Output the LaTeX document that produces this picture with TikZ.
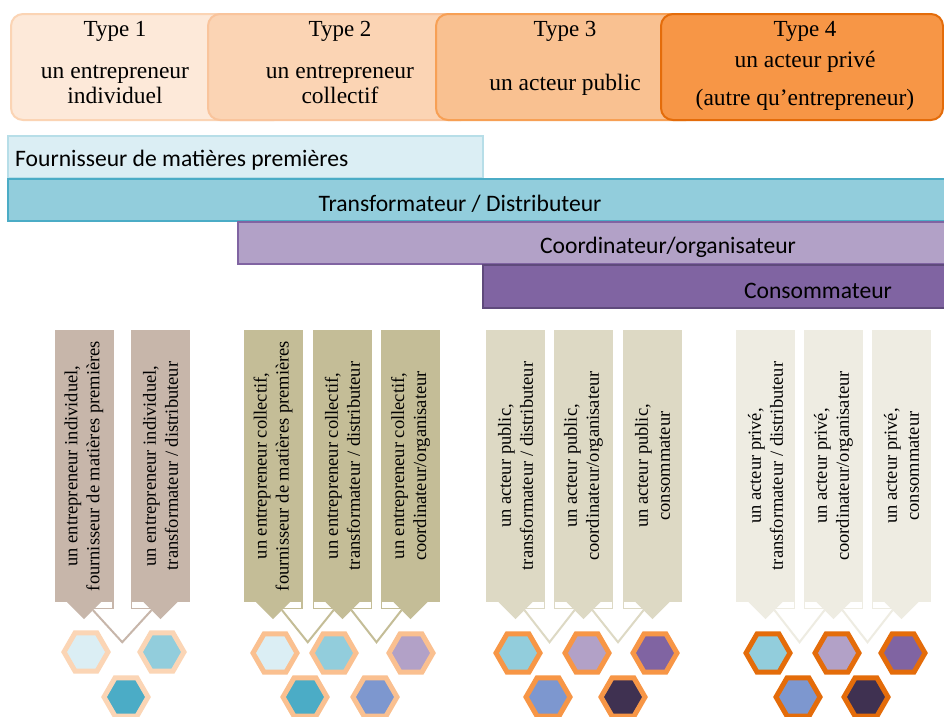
\documentclass[tikz,border=0pt]{standalone}
\usepackage{fontspec}
\setmainfont{Liberation Serif}
\newfontfamily\calib{Carlito}
\usetikzlibrary{shapes.geometric,calc}
\definecolor{tAfill}{HTML}{FDE9D9}\definecolor{tAdraw}{HTML}{FBD4B4}
\definecolor{tBfill}{HTML}{FBD4B4}\definecolor{tBdraw}{HTML}{F9C49C}
\definecolor{tCfill}{HTML}{F9C191}\definecolor{tCdraw}{HTML}{F7A055}
\definecolor{tDfill}{HTML}{F79646}\definecolor{tDdraw}{HTML}{E46C0A}
\definecolor{bAfill}{HTML}{DBEEF4}\definecolor{bAdraw}{HTML}{B7DEE8}
\definecolor{bBfill}{HTML}{92CDDC}\definecolor{bBdraw}{HTML}{4BACC6}
\definecolor{bCfill}{HTML}{B2A1C7}\definecolor{bCdraw}{HTML}{8064A2}
\definecolor{bDfill}{HTML}{8064A2}\definecolor{bDdraw}{HTML}{5F4A7C}
\definecolor{gA}{HTML}{C7B6AA}\definecolor{gB}{HTML}{C4BD97}
\definecolor{gC}{HTML}{DDD9C4}\definecolor{gD}{HTML}{EEECE2}
\definecolor{hLight}{HTML}{DBEEF4}\definecolor{hMed}{HTML}{92CDDC}
\definecolor{hTeal}{HTML}{4BACC6}\definecolor{hLav}{HTML}{B2A1C7}
\definecolor{hPur}{HTML}{8064A2}\definecolor{hPeri}{HTML}{7D97CF}
\definecolor{hDark}{HTML}{3F3151}
\definecolor{rA}{HTML}{FBD5B5}\definecolor{rB}{HTML}{FAC090}
\definecolor{rC}{HTML}{F79646}\definecolor{rD}{HTML}{E46C0A}
\newcommand{\arrowcol}[4]{%
  \node[colbox, fill=#3] (#1) at (#2,466) {#4};
  \fill[#3] ($(#1.west)+(-17,0)$) -- ($(#1.west)+(17,0)$) -- ($(#1.west)+(0,17)$) -- cycle;}
\newcommand{\rbr}[2]{\draw[#2, line width=1.2pt] ($(#1.west)+(10,0)$) -- ++(0,6) -- ++(19,0) -- ++(0,-6);}
\newcommand{\lbr}[2]{\draw[#2, line width=1.2pt] ($(#1.west)+(-10,0)$) -- ++(0,6) -- ++(-19,0) -- ++(0,-6);}
\newcommand{\vconn}[3]{\draw[#3, line width=2pt] ($(#1.west)+(9,8)$) -- ($(#1.west)!0.5!(#2.west)+(0,40)$) -- ($(#2.west)+(-9,8)$);}
\begin{document}
\begin{tikzpicture}[x=1pt,y=-1pt,
  typebox/.style={line width=2pt, rounded corners=12pt, minimum height=106pt, anchor=north west, inner sep=0pt},
  typetitle/.style={font=\fontsize{23}{27}\selectfont, inner sep=0pt},
  typetext/.style={font=\fontsize{23.5}{25}\selectfont, align=center, inner sep=0pt},
  bar/.style={anchor=north west, line width=1.5pt, inner sep=0pt, minimum height=42pt},
  bartext/.style={font=\calib\fontsize{23.6}{26}\selectfont, inner sep=0pt},
  colbox/.style={rectangle, rotate=90, minimum width=272pt, minimum height=59pt, inner sep=2pt, align=center, font=\fontsize{18.5}{22}\selectfont},
  hexa/.style={regular polygon, regular polygon sides=6, minimum size=44pt, inner sep=0pt, line width=5pt}]
\useasboundingbox (0,0) rectangle (944,716);
\fill[white] (0,0) rectangle (944,716);
% type boxes
\node[typebox, fill=tAfill, draw=tAdraw, minimum width=275pt] (box1) at (10,13) {};
\node[typebox, fill=tBfill, draw=tBdraw, minimum width=265pt] (box2) at (207,13) {};
\node[typebox, fill=tCfill, draw=tCdraw, minimum width=262pt] (box3) at (435,13) {};
\node[typebox, fill=tDfill, draw=tDdraw, minimum width=282pt] (box4) at (660,13) {};
\node[typetitle] (ty1) at (115,31) {Type 1};
\node[typetitle] (ty2) at (340,31) {Type 2};
\node[typetitle] (ty3) at (565,31) {Type 3};
\node[typetitle] (ty4) at (805,31) {Type 4};
\node[typetext] (tx1) at (115,84) {un entrepreneur\\individuel};
\node[typetext] (tx2) at (340,84) {un entrepreneur\\collectif};
\node[typetext] (tx3) at (565,85) {un acteur public};
\node[typetext] (tx4) at (805,81) {un acteur privé\\[13pt](autre qu’entrepreneur)};
% role bars
\node[bar, fill=bAfill, draw=bAdraw, minimum width=475pt] (bar1) at (7,135) {};
\node[bar, fill=bBfill, draw=bBdraw, minimum width=942pt] (bar2) at (7,178) {};
\node[bar, fill=bCfill, draw=bCdraw, minimum width=712pt] (bar3) at (237,221) {};
\node[bar, fill=bDfill, draw=bDdraw, minimum width=467pt, minimum height=43pt] (bar4) at (482,264) {};
\node[bartext, anchor=west] (bt1) at (15,160) {Fournisseur de matières premières};
\node[bartext] (bt2) at (460,204) {Transformateur / Distributeur};
\node[bartext] (bt3) at (668,247) {Coordinateur/organisateur};
\node[bartext] (bt4) at (818,291) {Consommateur};
% group 1
\arrowcol{a11}{84}{gA}{un entrepreneur individuel,\\fournisseur de matières premières}
\arrowcol{a12}{160.5}{gA}{un entrepreneur individuel,\\transformateur / distributeur}
\rbr{a11}{gA}\lbr{a12}{gA}
\vconn{a11}{a12}{gA}
% group 2
\arrowcol{a21}{273}{gB}{un entrepreneur collectif,\\fournisseur de matières premières}
\arrowcol{a22}{342.5}{gB}{un entrepreneur collectif,\\transformateur / distributeur}
\arrowcol{a23}{410.5}{gB}{un entrepreneur collectif,\\coordinateur/organisateur}
\rbr{a21}{gB}\lbr{a22}{gB}\rbr{a22}{gB}\lbr{a23}{gB}
\vconn{a21}{a22}{gB}\vconn{a22}{a23}{gB}
% group 3
\arrowcol{a31}{515.5}{gC}{un acteur public,\\transformateur / distributeur}
\arrowcol{a32}{583.5}{gC}{un acteur public,\\coordinateur/organisateur}
\arrowcol{a33}{652.5}{gC}{un acteur public,\\consommateur}
\rbr{a31}{gC}\lbr{a32}{gC}\rbr{a32}{gC}\lbr{a33}{gC}
\vconn{a31}{a32}{gC}\vconn{a32}{a33}{gC}
% group 4
\arrowcol{a41}{765.5}{gD}{un acteur privé,\\transformateur / distributeur}
\arrowcol{a42}{833.5}{gD}{un acteur privé,\\coordinateur/organisateur}
\arrowcol{a43}{901.5}{gD}{un acteur privé,\\consommateur}
\rbr{a41}{gD}\lbr{a42}{gD}\rbr{a42}{gD}\lbr{a43}{gD}
\vconn{a41}{a42}{gD}\vconn{a42}{a43}{gD}
% hexagons group 1
\node[hexa, draw=rA, fill=hLight] (h11) at (86,652) {};
\node[hexa, draw=rA, fill=hMed] (h12) at (162,652) {};
\node[hexa, draw=rA, fill=hTeal] (h13) at (126,697) {};
% group 2
\node[hexa, draw=rB, fill=hLight] (h21) at (275,653) {};
\node[hexa, draw=rB, fill=hMed] (h22) at (334,653) {};
\node[hexa, draw=rB, fill=hLav] (h23) at (411,653) {};
\node[hexa, draw=rB, fill=hTeal] (h24) at (305,697) {};
\node[hexa, draw=rB, fill=hPeri] (h25) at (375,697) {};
% group 3
\node[hexa, draw=rC, fill=hMed] (h31) at (518,653) {};
\node[hexa, draw=rC, fill=hLav] (h32) at (587,653) {};
\node[hexa, draw=rC, fill=hPur] (h33) at (655,653) {};
\node[hexa, draw=rC, fill=hPeri] (h34) at (548,697) {};
\node[hexa, draw=rC, fill=hDark] (h35) at (623,697) {};
% group 4
\node[hexa, draw=rD, fill=hMed] (h41) at (768,653) {};
\node[hexa, draw=rD, fill=hLav] (h42) at (837,653) {};
\node[hexa, draw=rD, fill=hPur] (h43) at (903,653) {};
\node[hexa, draw=rD, fill=hPeri] (h44) at (798,697) {};
\node[hexa, draw=rD, fill=hDark] (h45) at (866,697) {};
\end{tikzpicture}
\end{document}
